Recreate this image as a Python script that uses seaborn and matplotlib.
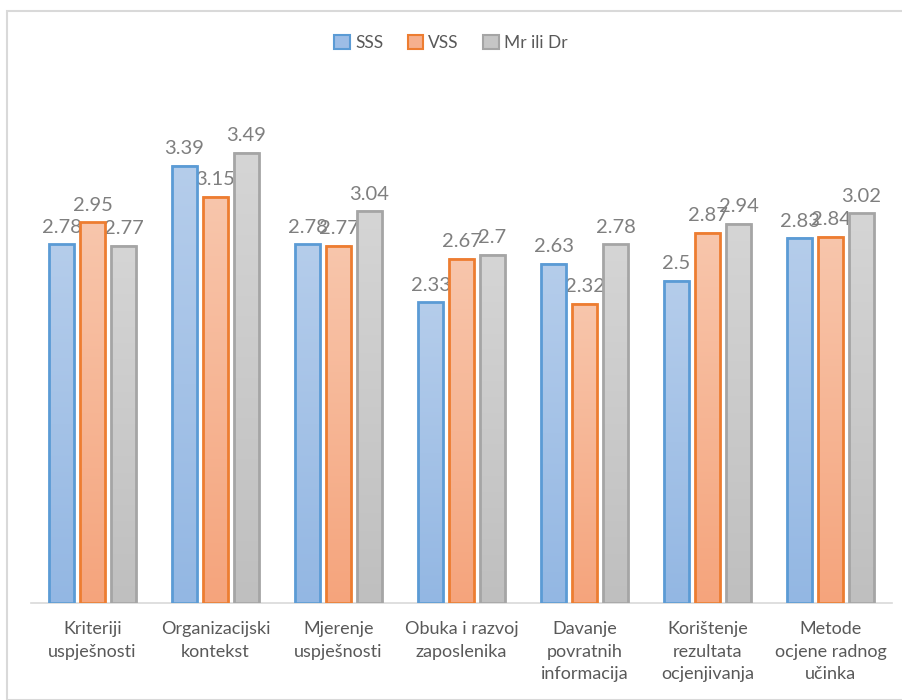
import numpy as np
import pandas as pd
import matplotlib
matplotlib.use("Agg")
import matplotlib.pyplot as plt
import seaborn as sns
from matplotlib.patches import Patch, Rectangle
from matplotlib.colors import LinearSegmentedColormap

categories = ["Kriteriji\nuspješnosti", "Organizacijski\nkontekst", "Mjerenje\nuspješnosti",
              "Obuka i razvoj\nzaposlenika", "Davanje\npovratnih\ninformacija",
              "Korištenje\nrezultata\nocjenjivanja", "Metode\nocjene radnog\nučinka"]
series = ["SSS", "VSS", "Mr ili Dr"]
sss = [2.78, 3.39, 2.78, 2.33, 2.63, 2.5, 2.83]
vss = [2.95, 3.15, 2.77, 2.67, 2.32, 2.87, 2.84]
mrdr = [2.77, 3.49, 3.04, 2.7, 2.78, 2.94, 3.02]

edge_colors = ["#5B9BD5", "#ED7D31", "#A5A5A5"]
grad_top = ["#B5CDEB", "#F8C6AC", "#D5D5D5"]
grad_bot = ["#93B7E3", "#F5A47C", "#BFBFBF"]
legend_fill = ["#9DBDE6", "#F6B08E", "#C6C6C6"]

rows = []
for s, vals in zip(series, [sss, vss, mrdr]):
    for c, v in zip(categories, vals):
        rows.append({"cat": c, "series": s, "value": v})
df = pd.DataFrame(rows)

sns.set_theme(style="white")
plt.rcParams["font.family"] = ["Lato", "DejaVu Sans"]

fig = plt.figure(figsize=(9.02, 7.0), dpi=100)
ax = fig.add_axes([31/902, 97/700, 861/902, 516/700])

sns.barplot(data=df, x="cat", y="value", hue="series", order=categories, hue_order=series,
            palette=edge_colors, width=0.756, gap=0.2, ax=ax, legend=False, errorbar=None,
            saturation=1)

for i, container in enumerate(ax.containers):
    cmap = LinearSegmentedColormap.from_list("g", [grad_bot[i], grad_top[i]])
    for patch in container.patches:
        patch.set_facecolor("none")
        patch.set_edgecolor(edge_colors[i])
        patch.set_linewidth(2.0)
        patch.set_zorder(3)
        x0, y0 = patch.get_x(), patch.get_y()
        w, h = patch.get_width(), patch.get_height()
        grad = np.linspace(0, 1, 256).reshape(-1, 1)
        ax.imshow(grad, extent=[x0, x0 + w, y0, y0 + h], origin="lower", cmap=cmap,
                  aspect="auto", zorder=2.5, interpolation="bilinear")
        ax.annotate(f"{h:g}", (x0 + w / 2, y0 + h), xytext=(0, 6), textcoords="offset points",
                    ha="center", va="bottom", fontsize=14.5, color="#7F7F7F", zorder=1)

ax.set_xlim(-0.5, 6.5)
ax.set_ylim(0, 4)
ax.set_xlabel("")
ax.set_ylabel("")
ax.set_yticks([])
ax.set_xticks(range(len(categories)))
ax.set_xticklabels(categories, fontsize=13, color="#595959", linespacing=1.5)
ax.tick_params(axis="x", length=0, pad=13)
for side in ["left", "right", "top"]:
    ax.spines[side].set_visible(False)
ax.spines["bottom"].set_color("#D9D9D9")
ax.spines["bottom"].set_linewidth(1.2)

handles = [Patch(facecolor=legend_fill[i], edgecolor=edge_colors[i], linewidth=1.5, label=series[i])
           for i in range(3)]
fig.legend(handles=handles, loc="center", bbox_to_anchor=(0.5, 1 - 43/700), ncol=3, frameon=False,
           fontsize=12.5, labelcolor="#595959", handlelength=0.9, handleheight=0.9,
           handletextpad=0.3, columnspacing=1.4)

fig.patches.append(Rectangle((6.5/902, 0), 1.2, (700 - 10.5)/700, transform=fig.transFigure,
                             fill=False, edgecolor="#D9D9D9", linewidth=1.5))

fig.savefig("out.png", dpi=100)
